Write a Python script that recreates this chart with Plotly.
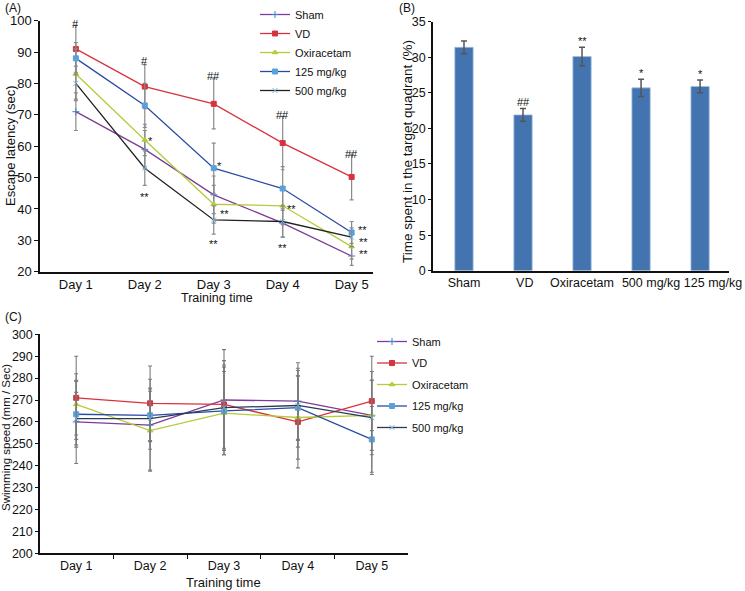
import plotly.graph_objects as go

W, H = 745, 591

days = ["Day 1", "Day 2", "Day 3", "Day 4", "Day 5"]
groups = ["Sham", "VD", "Oxiracetam", "125 mg/kg", "500 mg/kg"]

# Panel A: escape latency (sec)
lat_sham = [71, 59, 44.5, 35.5, 25]
lat_vd = [91, 79, 73.5, 61, 50.2]
lat_oxi = [83, 62, 41.5, 41, 28]
lat_125 = [88, 73, 53, 46.5, 32.5]
lat_500 = [80, 53, 36.5, 36, 31]
lat_err_sham = [6, 6, 6, 4.5, 3]
lat_err_vd = [7.5, 7, 8, 8.5, 7.3]
lat_err_oxi = [8, 5, 6, 6, 4]
lat_err_125 = [5, 7, 8, 7, 3.5]
lat_err_500 = [5.5, 5.5, 4.5, 5, 3]

# Panel B: time in target quadrant (%)
b_cats = ["Sham", "VD", "Oxiracetam", "500 mg/kg", "125 mg/kg"]
b_vals = [31.4, 21.9, 30.1, 25.7, 25.9]
b_err = [0.9, 0.9, 1.3, 1.2, 0.9]
b_sig = ["", "##", "**", "*", "*"]

# Panel C: swimming speed (mm / Sec)
spd_sham = [260, 258.5, 270, 269.5, 263]
spd_vd = [271, 268.5, 268, 260, 269.5]
spd_oxi = [268, 256, 264, 262, 263]
spd_125 = [263.5, 263, 265, 266.5, 252]
spd_500 = [261.5, 261.5, 266.5, 267.5, 262]
spd_err_sham = [19, 21, 23, 17.5, 27]
spd_err_vd = [19, 17, 20, 21, 13.5]
spd_err_oxi = [14, 18, 19, 19, 16]
spd_err_125 = [15, 12, 20, 18, 15]
spd_err_500 = [12, 14, 19.5, 16, 17]

# significance marks panel A: (day index, x offset, y value, text)
a_marks = [
    (0, 0.0, 99.8, "#"), (1, 0.0, 88.0, "#"), (2, 0.0, 83.3, "##"),
    (3, 0.0, 70.8, "##"), (4, 0.0, 58.5, "##"),
    (1, 0.08, 62.5, "*"), (1, 0.0, 44.8, "**"),
    (2, 0.08, 54.5, "*"), (2, 0.16, 39.2, "**"), (2, 0.0, 29.7, "**"),
    (3, 0.13, 40.8, "**"), (3, 0.0, 28.6, "**"),
    (4, 0.16, 34.3, "**"), (4, 0.17, 30.4, "**"), (4, 0.17, 26.5, "**"),
]

FONT = "Liberation Sans, Arial, sans-serif"
styles = {
    "Sham": dict(color="#7d3c98", mcolor="#3d7fd0", symbol="cross-thin"),
    "VD": dict(color="#d9323f", mcolor="#d9323f", symbol="square"),
    "Oxiracetam": dict(color="#b3cc3a", mcolor="#b3cc3a", symbol="triangle-up"),
    "125 mg/kg": dict(color="#2b4ca3", mcolor="#5aa0dc", symbol="square"),
    "500 mg/kg": dict(color="#222222", mcolor="#7ab8e0", symbol="x-thin"),
}
styles_c = dict(styles)
styles_c["500 mg/kg"] = dict(color="#2b3a55", mcolor="#7ab8e0", symbol="x-thin")

fig = go.Figure()

a_data = [(lat_sham, lat_err_sham), (lat_vd, lat_err_vd), (lat_oxi, lat_err_oxi),
          (lat_125, lat_err_125), (lat_500, lat_err_500)]
for g, (v, e) in zip(groups, a_data):
    s = styles[g]
    fig.add_trace(go.Scatter(
        x=days, y=v, mode="lines+markers", name=g,
        line=dict(color=s["color"], width=1.3),
        marker=dict(color=s["mcolor"], symbol=s["symbol"], size=5,
                    line=dict(color=s["mcolor"], width=1)),
        error_y=dict(type="data", array=e, visible=True, color="#8a8a8a",
                     thickness=1.2, width=2),
        xaxis="x", yaxis="y", legend="legend"))

b_pos = list(range(len(b_cats)))
fig.add_trace(go.Bar(
    x=b_pos, y=b_vals, marker=dict(color="#4474b0", line=dict(color="#9fc0e0", width=0.8)),
    width=0.31, showlegend=False,
    error_y=dict(type="data", array=b_err, visible=True, color="#555555",
                 thickness=1.5, width=3),
    xaxis="x2", yaxis="y2"))

c_data = [(spd_sham, spd_err_sham), (spd_vd, spd_err_vd), (spd_oxi, spd_err_oxi),
          (spd_125, spd_err_125), (spd_500, spd_err_500)]
for g, (v, e) in zip(groups, c_data):
    s = styles_c[g]
    fig.add_trace(go.Scatter(
        x=days, y=v, mode="lines+markers", name=g,
        line=dict(color=s["color"], width=1.3),
        marker=dict(color=s["mcolor"], symbol=s["symbol"], size=5,
                    line=dict(color=s["mcolor"], width=1)),
        error_y=dict(type="data", array=e, visible=True, color="#7a7a7a",
                     thickness=1.1, width=2),
        xaxis="x3", yaxis="y3", legend="legend2", legendgroup="c" + g))

def fx(x):
    return x / W

def fy(y):
    return 1 - y / H

def px(x0, x1):
    return [fx(x0), fx(x1)]

def py(top, bottom):
    return [fy(bottom), fy(top)]

ann = []
for d, off, yv, t in a_marks:
    ann.append(dict(x=d + off, y=yv, xref="x", yref="y", text=t, showarrow=False,
                    font=dict(family=FONT, size=11, color="#111"), yshift=-3))
for i, t in enumerate(b_sig):
    if t:
        ann.append(dict(x=b_pos[i], y=b_vals[i] + b_err[i], xref="x2", yref="y2", text=t,
                        showarrow=False, yanchor="bottom", yshift=-2,
                        font=dict(family=FONT, size=11, color="#111")))
for lab, xx, yy in [("(A)", 3, 8), ("(B)", 397, 8), ("(C)", 3, 317)]:
    ann.append(dict(x=fx(xx), y=fy(yy), xref="paper", yref="paper", text=lab,
                    xanchor="left", yanchor="middle", showarrow=False,
                    font=dict(family=FONT, size=12, color="#111")))
# axis titles
for txt, xx, yy, ang, fs in [
    ("Training time", 217, 298, 0, 12.5),
    ("Escape latency (sec)", 10, 146, -90, 13),
    ("Time spent in the target quadrant (%)", 407, 152, -90, 13.5),
    ("Training time", 223, 582, 0, 13),
    ("Swimming speed (mm / Sec)", 6, 438, -90, 11.5),
]:
    ann.append(dict(x=fx(xx), y=fy(yy), xref="paper", yref="paper", text=txt,
                    xanchor="center", yanchor="middle", showarrow=False, textangle=ang,
                    font=dict(family=FONT, size=fs, color="#111")))

# slight rightward offsets of the panel B category labels, as in the original figure
b_label_shift = [0.0, 0.03, 0.0, 0.17, 0.22]

axis_common = dict(showline=True, linecolor="#111", linewidth=1.5, showgrid=False,
                   zeroline=False, ticks="outside", ticklen=4, tickcolor="#111",
                   tickfont=dict(family=FONT, size=13, color="#111"))

fig.update_layout(
    width=W, height=H, margin=dict(l=0, r=0, t=0, b=0, autoexpand=False),
    paper_bgcolor="white", plot_bgcolor="white",
    font=dict(family=FONT, color="#111"),
    xaxis=dict(axis_common, domain=px(40, 373), range=[-0.52, 4.31], ticks="",
               type="category", anchor="y"),
    yaxis=dict(axis_common, domain=py(20.7, 271.7), range=[20, 100], dtick=10, anchor="x"),
    xaxis2=dict(axis_common, domain=px(433, 729), range=[-0.525, 4.49], ticks="",
                anchor="y2", tickangle=0,
                tickvals=[p + s for p, s in zip(b_pos, b_label_shift)], ticktext=b_cats,
                tickfont=dict(family=FONT, size=12.5, color="#111")),
    yaxis2=dict(axis_common, domain=py(21.7, 270.7), range=[0, 35], dtick=5, anchor="x2",
                ticklen=3, tickfont=dict(family=FONT, size=12.5, color="#111")),
    xaxis3=dict(axis_common, domain=px(40, 408), range=[-0.49, 4.49], tickson="boundaries",
                type="category", anchor="y3", tickfont=dict(family=FONT, size=12.5, color="#111")),
    yaxis3=dict(axis_common, domain=py(334.3, 553.3), range=[200, 300], dtick=10, anchor="x3",
                ticklen=3, tickfont=dict(family=FONT, size=12.5, color="#111")),
    legend=dict(x=fx(255), y=fy(0), xanchor="left", yanchor="top",
                bgcolor="rgba(0,0,0,0)", font=dict(family=FONT, size=11, color="#111")),
    legend2=dict(x=fx(372), y=fy(327), xanchor="left", yanchor="top",
                 bgcolor="rgba(0,0,0,0)", font=dict(family=FONT, size=11, color="#111"),
                 tracegroupgap=2.5),
    annotations=ann,
    showlegend=True,
)

# remove the browser's default 8px body margin so the figure sits at the page origin
fig.write_html("out.html", config={"displayModeBar": False},
               post_script="document.body.style.margin='0';")
